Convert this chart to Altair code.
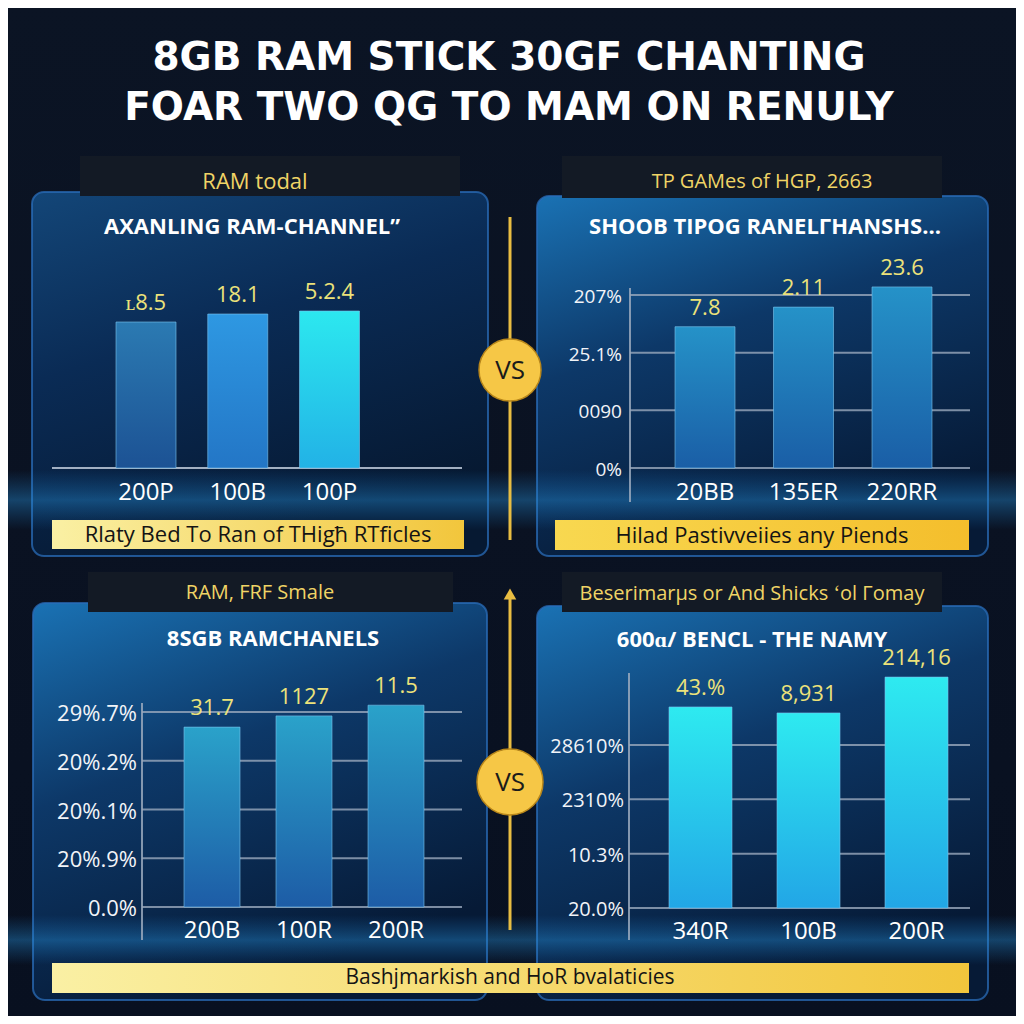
import altair as alt
import pandas as pd

# ---------------- data ----------------
TITLE_LINES = ["8GB RAM STICK 30GF CHANTING", "FOAR TWO QG TO MAM ON RENULY"]
HEADERS = ["RAM todal", "TP GAMes of HGP, 2663", "RAM, FRF Smale", "Beserimarµs or And Shicks ʻol Γomay"]
PANEL_TITLES = ["AXANLING RAM-CHANNEL\u201d", "SHOOB TIPOG RANELΓHANSHS...", "8SGB RAMCHANELS", "600ɑ/ BENCL - THE NAMY"]
BANNERS = ["Rlaty Bed To Ran of THigħ RTficles", "Hilad Pastivveiies any Piends", "Bashjmarkish and HoR bvalaticies"]
VS_TEXT = "VS"

TL_CATS = ["200P", "100B", "100P"]
TL_VALUES = [2.92, 3.08, 3.14]
TL_LABELS = ["ʟ8.5", "18.1", "5.2.4"]

TR_CATS = ["20BB", "135ER", "220RR"]
TR_VALUES = [2.45, 2.79, 3.14]
TR_LABELS = ["7.8", "2.11", "23.6"]
TR_TICKS = ["0%", "0090", "25.1%", "207%"]

BL_CATS = ["200B", "100R", "200R"]
BL_VALUES = [3.69, 3.92, 4.14]
BL_LABELS = ["31.7", "1127", "11.5"]
BL_TICKS = ["0.0%", "20%.9%", "20%.1%", "20%.2%", "29%.7%"]

BR_CATS = ["340R", "100B", "200R"]
BR_VALUES = [3.70, 3.59, 4.25]
BR_LABELS = ["43.%", "8,931", "214,16"]
BR_TICKS = ["20.0%", "10.3%", "2310%", "28610%"]

# ---------------- helpers ----------------
FONT = "Open Sans"
W = H = 1008


def px(v):
    return v - 8


def one():
    return alt.Chart(pd.DataFrame({"k": [0]}))


def lin(stops, x1=0, y1=0, x2=0, y2=1):
    return alt.Gradient(
        gradient="linear",
        stops=[alt.GradientStop(color=c, offset=o) for o, c in stops],
        x1=x1, y1=y1, x2=x2, y2=y2,
    )


def rect(x0, x1, y0, y1, **kw):
    return one().mark_rect(**kw).encode(
        x=alt.value(px(x0)), x2=alt.value(px(x1)),
        y=alt.value(px(y0)), y2=alt.value(px(y1)),
    )


def text(s, x, y, **kw):
    kw.setdefault("font", FONT)
    kw.setdefault("baseline", "middle")
    kw.setdefault("align", "center")
    return one().mark_text(text=s, **kw).encode(x=alt.value(px(x)), y=alt.value(px(y)))


def vrule(x, y0, y1, **kw):
    return one().mark_rule(**kw).encode(
        x=alt.value(px(x)), y=alt.value(px(y0)), y2=alt.value(px(y1))
    )


def panel(cats, values, labels, xr, yr, ydom, fills, bar_w, cat_y,
          ticks=None, tick_x=None, tick_size=19, grid_x=None, axis_line=None, baseline=None):
    df = pd.DataFrame({"cat": cats, "value": values, "label": labels})
    xs = alt.Scale(type="point", domain=cats, range=[px(xr[0]), px(xr[1])], padding=0)
    ys = alt.Scale(domain=ydom, range=[px(yr[0]), px(yr[1])], nice=False, zero=False)
    layers = []
    if ticks is not None:
        tdf = pd.DataFrame({"pos": list(range(len(ticks))), "lab": ticks})
        layers.append(
            alt.Chart(tdf).mark_rule(color="#9aa9bd", strokeWidth=2, opacity=0.8).encode(
                y=alt.Y("pos:Q", scale=ys, axis=None),
                x=alt.value(px(grid_x[0])), x2=alt.value(px(grid_x[1])),
            )
        )
        layers.append(
            alt.Chart(tdf).mark_text(font=FONT, fontSize=tick_size, color="#f2f4f8", align="right",
                                     baseline="middle", dy=2).encode(
                y=alt.Y("pos:Q", scale=ys, axis=None),
                x=alt.value(px(tick_x)),
                text="lab:N",
            )
        )
    if baseline is not None:
        bdf = pd.DataFrame({"pos": [0]})
        layers.append(
            alt.Chart(bdf).mark_rule(color="#b4c0d0", strokeWidth=2, opacity=0.9).encode(
                y=alt.Y("pos:Q", scale=ys, axis=None),
                x=alt.value(px(baseline[0])), x2=alt.value(px(baseline[1])),
            )
        )
    if axis_line is not None:
        layers.append(vrule(axis_line[0], axis_line[1], axis_line[2], color="#9aa9bd",
                            strokeWidth=2, opacity=0.85))
    if isinstance(fills, list):
        for c, f in zip(cats, fills):
            layers.append(
                alt.Chart(df).transform_filter(alt.datum.cat == c)
                .mark_bar(size=bar_w, fill=f, stroke="#7cc4ee", strokeWidth=1, strokeOpacity=0.6)
                .encode(x=alt.X("cat:N", scale=xs, axis=None),
                        y=alt.Y("value:Q", scale=ys, axis=None),
                        y2=alt.datum(0))
            )
    else:
        layers.append(
            alt.Chart(df).mark_bar(size=bar_w, fill=fills, stroke="#7cc4ee", strokeWidth=1,
                                   strokeOpacity=0.6)
            .encode(x=alt.X("cat:N", scale=xs, axis=None),
                    y=alt.Y("value:Q", scale=ys, axis=None),
                    y2=alt.datum(0))
        )
    layers.append(
        alt.Chart(df).mark_text(font=FONT, fontSize=22, color="#ece27a", baseline="middle", dy=-19)
        .encode(x=alt.X("cat:N", scale=xs, axis=None),
                y=alt.Y("value:Q", scale=ys, axis=None),
                text="label:N")
    )
    layers.append(
        alt.Chart(df).mark_text(font=FONT, fontSize=24, color="#ffffff", baseline="middle")
        .encode(x=alt.X("cat:N", scale=xs, axis=None),
                y=alt.value(px(cat_y)),
                text="cat:N")
    )
    return alt.layer(*layers)


# ---------------- decorations ----------------
deco = []
deco.append(rect(0, 1024, 0, 1024, fill=lin([(0, "#0b1424"), (0.5, "#0a1222"), (1, "#081020")])))

panel_fill_dark = lin([(0, "#134678"), (0.45, "#0a2b55"), (1, "#061932")], x1=0, y1=0, x2=0.4, y2=1)
panel_fill_bright = lin([(0, "#1a72b4"), (0.45, "#0d3868"), (1, "#061a36")], x1=0, y1=0, x2=0.4, y2=1)
for (x0, x1, y0, y1, f) in [
    (32, 488, 192, 556, panel_fill_dark),
    (537, 988, 196, 556, panel_fill_bright),
    (33, 487, 603, 1000, panel_fill_bright),
    (537, 988, 606, 1000, panel_fill_bright),
]:
    deco.append(rect(x0, x1, y0, y1, fill=f, stroke="#2a6cb8", strokeWidth=2, strokeOpacity=0.75,
                     cornerRadius=12))

glow = lin([(0, "rgba(30,130,210,0)"), (0.5, "rgba(40,150,225,0.38)"), (1, "rgba(30,130,210,0)")])
deco.append(rect(0, 1024, 470, 530, fill=glow))
deco.append(rect(0, 1024, 915, 965, fill=glow))

hdr_boxes = [(80, 460, 156, 196, 255, 182, 22), (562, 942, 156, 198, 762, 182, 20),
             (88, 453, 572, 612, 260, 593, 20), (562, 942, 572, 612, 752, 594, 20)]
for (x0, x1, y0, y1, tx, ty, fs), s in zip(hdr_boxes, HEADERS):
    deco.append(rect(x0, x1, y0, y1, fill="#131a25"))
    deco.append(text(s, tx, ty, fontSize=fs, color="#f0d466"))

for (tx, ty), s in zip([(252, 227), (765, 227), (273, 639), (752, 640)], PANEL_TITLES):
    deco.append(text(s, tx, ty, fontSize=22, fontWeight="bold", color="#ffffff"))

ban_fill_a = lin([(0, "#faf0a4"), (1, "#f2c63c")], x1=0, y1=0, x2=1, y2=0)
ban_fill_b = lin([(0, "#f8d850"), (1, "#f4be2c")], x1=0, y1=0, x2=1, y2=0)
deco.append(rect(52, 464, 520, 549, fill=ban_fill_a))
deco.append(text(BANNERS[0], 258, 535, fontSize=22, color="#141414"))
deco.append(rect(555, 969, 520, 550, fill=ban_fill_b))
deco.append(text(BANNERS[1], 762, 536, fontSize=22, color="#141414"))
deco.append(rect(52, 969, 963, 993, fill=ban_fill_a))
deco.append(text(BANNERS[2], 510, 978, fontSize=21, color="#141414"))

deco.append(vrule(510, 217, 540, color="#e9bd42", strokeWidth=3))
deco.append(vrule(510, 598, 930, color="#e9bd42", strokeWidth=3))
deco.append(one().mark_point(shape="triangle-up", filled=True, size=160, color="#e9bd42", opacity=1)
            .encode(x=alt.value(px(510)), y=alt.value(px(594))))
for cy, d in [(370, 62), (782, 66)]:
    deco.append(one().mark_point(shape="circle", filled=True, size=d * d, fill="#f6c746",
                                 stroke="#b8861a", strokeWidth=1.5, opacity=1)
                .encode(x=alt.value(px(510)), y=alt.value(px(cy))))
    deco.append(text(VS_TEXT, 510, cy + 1, fontSize=26, color="#1b1b1b"))

deco.append(text(TITLE_LINES[0], 509, 58, font="DejaVu Sans", fontSize=39, fontWeight="bold",
                 color="#ffffff"))
deco.append(text(TITLE_LINES[1], 509, 108, font="DejaVu Sans", fontSize=39, fontWeight="bold",
                 color="#ffffff"))

# ---------------- panels ----------------
tl = panel(TL_CATS, TL_VALUES, TL_LABELS, xr=(146, 329.5), yr=(468, 268), ydom=[0, 4],
           fills=[lin([(0, "#2b7ab2"), (1, "#1c5294")]),
                  lin([(0, "#2e98e2"), (1, "#2376c6")]),
                  lin([(0, "#2ce8ef"), (1, "#22b2e6")])],
           bar_w=60, cat_y=493, baseline=(52, 462))
tr = panel(TR_CATS, TR_VALUES, TR_LABELS, xr=(705, 902), yr=(468, 295), ydom=[0, 3],
           fills=lin([(0, "#2592c8"), (1, "#1a5ea6")]), bar_w=60, cat_y=493,
           ticks=TR_TICKS, tick_x=622, tick_size=19, grid_x=(630, 970), axis_line=(630, 288, 502))
bl = panel(BL_CATS, BL_VALUES, BL_LABELS, xr=(212, 396), yr=(907, 712), ydom=[0, 4],
           fills=lin([(0, "#2aa2ca"), (1, "#1d5ca6")]), bar_w=56, cat_y=931,
           ticks=BL_TICKS, tick_x=137, tick_size=22, grid_x=(142, 462), axis_line=(142, 703, 940))
br = panel(BR_CATS, BR_VALUES, BR_LABELS, xr=(700.5, 916.5), yr=(908, 745), ydom=[0, 3],
           fills=lin([(0, "#2eeaf0"), (1, "#22a6e6")]), bar_w=63, cat_y=932,
           ticks=BR_TICKS, tick_x=624, tick_size=20, grid_x=(629, 970), axis_line=(629, 673, 940))

chart = alt.layer(*deco, tl, tr, bl, br).resolve_scale(
    x="independent", y="independent"
).properties(
    width=W, height=H, padding=0, autosize="none", background="#0a1222"
).configure_view(stroke=None)

chart.save("out.html", embed_options={"renderer": "svg", "actions": False})
